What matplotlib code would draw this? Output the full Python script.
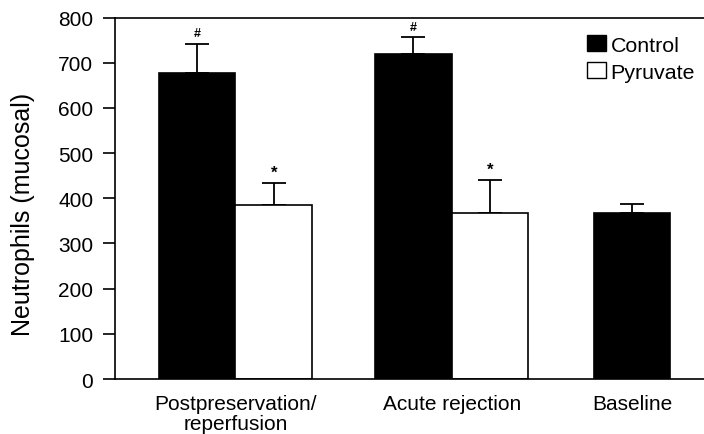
import matplotlib
matplotlib.use("Agg")
import matplotlib.pyplot as plt
from matplotlib.patches import Patch

plt.rcParams['font.family'] = ['Liberation Sans', 'DejaVu Sans']

# Data
groups = ["Postpreservation/\nreperfusion", "Acute rejection", "Baseline"]
control = [678, 720, 368]
control_err = [64, 36, 19]
pyruvate = [386, 368]
pyruvate_err = [48, 73]
control_marks = ["#", "#", ""]
pyruvate_marks = ["*", "*"]

# Layout (bar width = 1 data unit)
group_centers = [0.0, 2.82, 5.17]
bar_w = 1.0

fig = plt.figure(figsize=(7.04, 4.35), dpi=100)
ax = fig.add_axes([115 / 704, 1 - 380 / 435, 1 - 115 / 704, (380 - 18.5) / 435])

ctrl_x = [group_centers[0] - bar_w / 2, group_centers[1] - bar_w / 2, group_centers[2]]
pyr_x = [group_centers[0] + bar_w / 2, group_centers[1] + bar_w / 2]

ax.bar(ctrl_x, control, width=bar_w, color="black", edgecolor="black", linewidth=1.2, zorder=2)
ax.bar(pyr_x, pyruvate, width=bar_w, color="white", edgecolor="black", linewidth=1.2, zorder=2)

err_kw = dict(fmt="none", ecolor="black", elinewidth=1.3, capsize=8.6, capthick=1.3, zorder=1)
ax.errorbar(ctrl_x, control, yerr=[[0] * len(control), control_err], **err_kw)
ax.errorbar(pyr_x, pyruvate, yerr=[[0] * len(pyruvate), pyruvate_err], **err_kw)

for x, v, e, m in zip(ctrl_x, control, control_err, control_marks):
    if m:
        ax.text(x, v + e + 10, m, ha="center", va="bottom", fontsize=9, fontweight="bold")
for x, v, e, m in zip(pyr_x, pyruvate, pyruvate_err, pyruvate_marks):
    ax.text(x, v + e + 6, m, ha="center", va="bottom", fontsize=12, fontweight="bold")

ax.set_ylim(0, 800)
ax.set_xlim(-1.57, 6.11)
ax.set_yticks(range(0, 801, 100))
ax.set_xticks(group_centers)
ax.set_xticklabels(groups, linespacing=1.05)
ax.tick_params(axis="x", length=0, pad=11, labelsize=15)
ax.tick_params(axis="y", direction="out", length=8.6, width=1.2, pad=7, labelsize=15)

for side in ["left", "bottom", "top"]:
    ax.spines[side].set_linewidth(1.2)
ax.spines["right"].set_visible(False)

ax.set_ylabel("Neutrophils (mucosal)", fontsize=18)
ax.yaxis.set_label_coords(-0.136, 0.459)

handles = [Patch(facecolor="black", edgecolor="black"),
           Patch(facecolor="white", edgecolor="black")]
fig.legend(handles, ["Control", "Pyruvate"], loc="upper left",
           bbox_to_anchor=(587 / 704, 1 - 36 / 435), frameon=False,
           fontsize=15.4, handlelength=0.9, handleheight=0.8, handletextpad=0.2,
           labelspacing=0.35, borderpad=0, borderaxespad=0)

fig.savefig("out.png", dpi=100)
